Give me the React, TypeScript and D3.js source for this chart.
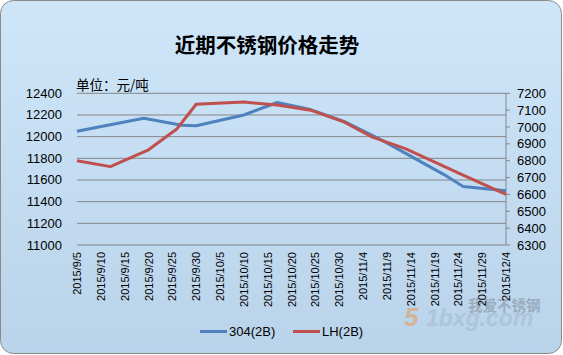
import React from "react";
import * as d3 from "d3";

const W = 563;
const H = 355;

const title = "近期不锈钢价格走势";
const unitLabel = "单位：元/吨";
const seriesNames = ["304(2B)", "LH(2B)"];

const dates304 = ["2015-09-05", "2015-09-19", "2015-09-27", "2015-09-30", "2015-10-10", "2015-10-17", "2015-10-24", "2015-10-31", "2015-11-07", "2015-11-14", "2015-11-21", "2015-11-25", "2015-12-04"];
const values304 = [12050, 12170, 12105, 12100, 12200, 12315, 12250, 12140, 11990, 11820, 11650, 11540, 11500];

const datesLH = ["2015-09-05", "2015-09-12", "2015-09-20", "2015-09-26", "2015-09-30", "2015-10-10", "2015-10-17", "2015-10-24", "2015-10-31", "2015-11-06", "2015-11-13", "2015-11-25", "2015-12-04"];
const valuesLH = [6800, 6765, 6865, 6990, 7135, 7148, 7130, 7100, 7030, 6940, 6870, 6715, 6600];

const leftTicks = [11000, 11200, 11400, 11600, 11800, 12000, 12200, 12400];
const rightTicks = [6300, 6400, 6500, 6600, 6700, 6800, 6900, 7000, 7100, 7200];

const parse = d3.timeParse("%Y-%m-%d");
const startDate = parse("2015-09-05")!;
const endDate = parse("2015-12-04")!;

export default function App() {
  const left = 77, right = 506, top = 93.3, bottom = 245;
  const x = d3.scaleTime().domain([startDate, endDate]).range([left, right]);
  const yL = d3.scaleLinear().domain([11000, 12400]).range([bottom, top]);
  const yR = d3.scaleLinear().domain([6300, 7200]).range([bottom, top]);
  const xTicks = d3.timeDay.range(startDate, d3.timeDay.offset(endDate, 1), 5);
  const fmt = (d: Date) => `${d.getFullYear()}/${d.getMonth() + 1}/${d.getDate()}`;

  const pts304 = dates304.map((d, i) => ({ d: parse(d)!, v: values304[i] }));
  const ptsLH = datesLH.map((d, i) => ({ d: parse(d)!, v: valuesLH[i] }));
  const line304 = d3.line<{ d: Date; v: number }>().x(p => x(p.d)).y(p => yL(p.v));
  const lineLH = d3.line<{ d: Date; v: number }>().x(p => x(p.d)).y(p => yR(p.v));

  const font = "'Liberation Sans', Arial, sans-serif";
  const cjk = "'Noto Sans CJK SC', sans-serif";

  return (
    <svg width={W} height={H} style={{ position: "absolute", left: 0, top: 0 }}>
      <defs>
        <linearGradient id="bg" x1="0" y1="0" x2="0" y2="1">
          <stop offset="0" stopColor="#cfe6f9" />
          <stop offset="1" stopColor="#b9d3ea" />
        </linearGradient>
      </defs>
      <rect x={0.5} y={0.5} width={W - 2} height={H - 2} rx={13} ry={13} fill="url(#bg)" stroke="#8a8a8a" strokeWidth={1} />

      <text x={267} y={53} textAnchor="middle" fontFamily={cjk} fontWeight="bold" fontSize={20.5} fill="#000">{title}</text>
      <text x={76} y={90} fontFamily={cjk} fontSize={13.5} fill="#000">{unitLabel}</text>

      {leftTicks.map(t => (
        <g key={"l" + t}>
          <line x1={left} x2={right} y1={yL(t)} y2={yL(t)} stroke="#858585" strokeWidth={1} />
          <text x={62} y={yL(t) + 4.5} textAnchor="end" fontFamily={font} fontSize={13} fill="#000">{t}</text>
        </g>
      ))}
      <line x1={right} x2={right} y1={top} y2={bottom} stroke="#858585" strokeWidth={1} />
      {rightTicks.map(t => (
        <g key={"r" + t}>
          <line x1={right} x2={right + 4} y1={yR(t)} y2={yR(t)} stroke="#858585" strokeWidth={1} />
          <text x={517} y={yR(t) + 4.5} fontFamily={font} fontSize={13} fill="#000">{t}</text>
        </g>
      ))}

      <g opacity={0.55}>
        <text x={404} y={326} fontFamily={font} fontStyle="italic" fontWeight="bold" fontSize={26} fill="#e39a55">5</text>
        <text x={426} y={326} fontFamily={font} fontStyle="italic" fontWeight="bold" fontSize={23} fill="#a3b8cc">1bxg.com</text>
        <text x={468} y={311} fontFamily={cjk} fontWeight="bold" fontSize={14.5} fill="#7f8c99">我爱不锈钢</text>
      </g>

      {xTicks.map(d => (
        <text key={d.toISOString()} transform={`translate(${x(d) + 4},252) rotate(-90)`} textAnchor="end" fontFamily={font} fontSize={11} fill="#000">{fmt(d)}</text>
      ))}

      <path d={line304(pts304) || ""} fill="none" stroke="#4f81bd" strokeWidth={3} strokeLinejoin="round" />
      <path d={lineLH(ptsLH) || ""} fill="none" stroke="#c0504d" strokeWidth={3} strokeLinejoin="round" />

      <line x1={200} x2={227} y1={331.5} y2={331.5} stroke="#4f81bd" strokeWidth={3} />
      <text x={229} y={336} fontFamily={font} fontSize={13} fill="#000">{seriesNames[0]}</text>
      <line x1={293} x2={320} y1={331.5} y2={331.5} stroke="#c0504d" strokeWidth={3} />
      <text x={322} y={336} fontFamily={font} fontSize={13} fill="#000">{seriesNames[1]}</text>
    </svg>
  );
}
